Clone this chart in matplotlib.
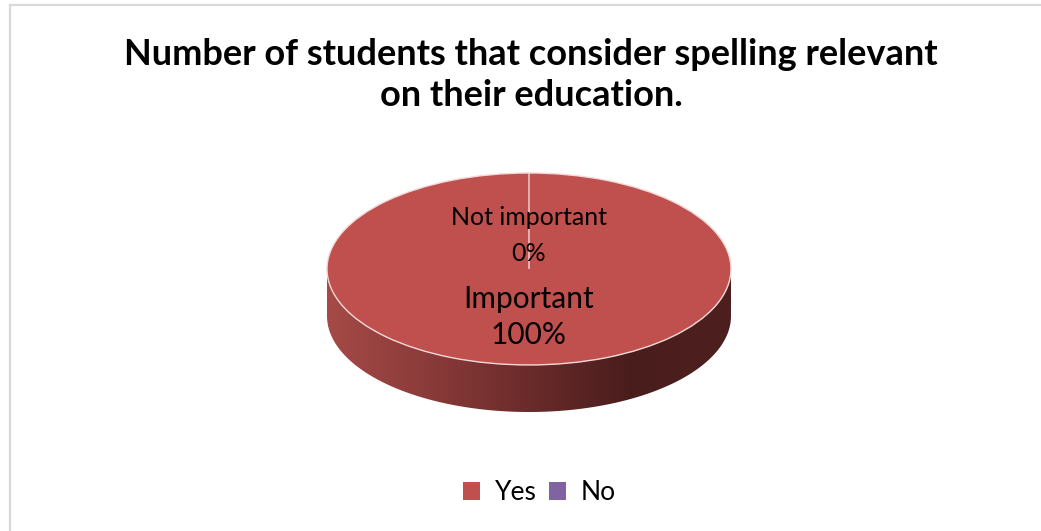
import matplotlib.pyplot as plt
import numpy as np
from matplotlib.colors import LinearSegmentedColormap
from matplotlib.lines import Line2D
from matplotlib.patches import Patch, Polygon

categories = ["Important", "Not important"]
values = [100, 0]
legend_labels = ["Yes", "No"]
colors = ["#C0504D", "#8064A2"]
title = "Number of students that consider spelling relevant\non their education."

plt.rcParams["font.family"] = ["Lato", "DejaVu Sans"]

fig = plt.figure(figsize=(10.41, 5.31), dpi=100)

# light frame on the top and left edges
fig.add_artist(Line2D([10 / 1041, 1], [1 - 5 / 531] * 2, color="#d9d9d9", lw=1.6))
fig.add_artist(Line2D([10 / 1041] * 2, [0, 1 - 5 / 531], color="#d9d9d9", lw=1.6))

fig.text(0.510, 1 - 75 / 531, title, ha="center", va="center",
         fontsize=26, fontweight="bold", linespacing=1.27)

# pie axes: the circle is squashed vertically to look tilted
depth = 0.49
ax = fig.add_axes([327 / 1041, (531 - 412) / 531, 404 / 1041, 239 / 531])

# side of the disc with a left-to-right shading
t = np.linspace(np.pi, 2 * np.pi, 200)
top_arc = np.column_stack([np.cos(t), np.sin(t)])
bottom_arc = np.column_stack([np.cos(t[::-1]), np.sin(t[::-1]) - depth])
side = Polygon(np.vstack([top_arc, bottom_arc]), closed=True,
               facecolor="none", edgecolor="none")
ax.add_patch(side)
grad = np.linspace(0, 1, 256).reshape(1, -1)
side_cmap = LinearSegmentedColormap.from_list(
    "side", ["#a54a47", "#8a3b39", "#6a2b2a", "#4a1d1d", "#4e1f1f"])
img = ax.imshow(grad, cmap=side_cmap, extent=[-1, 1, -1 - depth, 0],
                aspect="auto", zorder=1)
img.set_clip_path(side)

wedges, _ = ax.pie(values, colors=colors, startangle=90, counterclock=False,
                   radius=1,
                   wedgeprops=dict(edgecolor="#f2d9d8", linewidth=1.0))
for w in wedges:
    w.set_zorder(2)

ax.set_aspect("auto")
ax.set_xlim(-1, 1)
ax.set_ylim(-1 - depth, 1)
ax.axis("off")

total = sum(values)
pcts = [round(v / total * 100) for v in values]
ax.text(0, 0.35, f"{categories[1]}\n{pcts[1]}%", ha="center", va="center",
        fontsize=18, linespacing=1.72, zorder=3)
ax.text(0, -0.5, f"{categories[0]}\n{pcts[0]}%", ha="center", va="center",
        fontsize=21.5, linespacing=1.36, zorder=3)

handles = [Patch(facecolor=c, edgecolor="none") for c in colors]
fig.legend(handles, legend_labels, loc="center", bbox_to_anchor=(0.518, 1 - 493 / 531),
           ncol=2, frameon=False, fontsize=19, handlelength=0.65, handleheight=0.65,
           handletextpad=0.55, columnspacing=0.45)

fig.savefig("out.png", dpi=100)
